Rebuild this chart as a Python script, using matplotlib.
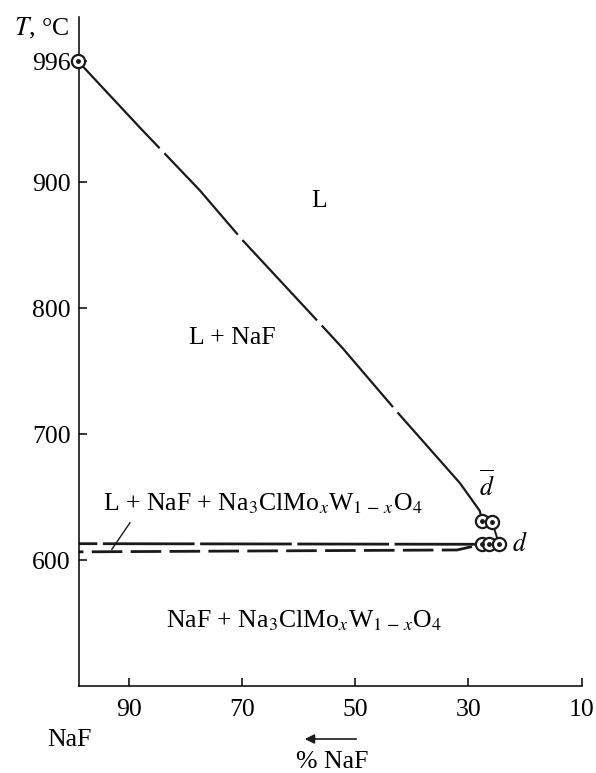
import matplotlib
matplotlib.use("Agg")
import matplotlib.pyplot as plt

plt.rcParams['font.family'] = ['Liberation Serif', 'DejaVu Serif']
plt.rcParams['mathtext.fontset'] = 'stix'
plt.rcParams['lines.scale_dashes'] = False

# ---- data ----
liq_x = [99.0, 88.0, 77.5, 69.9, 56.3, 52.2, 42.5, 31.5, 28.0, 27.6]
liq_T = [996, 943, 893.6, 853.8, 788, 768, 717, 661, 639, 631]

upper_x = [99.0, 27.6]
upper_T = [613.0, 612.5]

lower_x = [99.0, 32.0, 27.6]
lower_T = [606.5, 608.0, 612.5]

link_x = [25.8, 24.6]
link_T = [630.0, 612.5]

pts_x = [99.0, 27.6, 25.8, 27.6, 26.4, 24.6]
pts_T = [996, 631, 630, 612.5, 612.5, 612.5]

xticks = [90, 70, 50, 30, 10]
yticks = [600, 700, 800, 900, 996]

fs = 18.5
fig = plt.figure(figsize=(5.96, 7.73), dpi=100)
ax = fig.add_axes([0.1326, 0.1125, 0.976 - 0.1326, 0.978 - 0.1125])
ax.set_xlim(98.8, 10)
ax.set_ylim(500, 1031)
for s in ['top', 'right']:
    ax.spines[s].set_visible(False)
for s in ['left', 'bottom']:
    ax.spines[s].set_linewidth(1.1)

ax.set_xticks(xticks)
ax.set_yticks(yticks)
ax.tick_params(direction='in', length=6, width=1.1, labelsize=fs, pad=6)
ax.tick_params(axis='x', pad=9)

col = '#1a1a1a'
l1, = ax.plot(liq_x, liq_T, color=col, lw=1.6, clip_on=False)
l1.set_dashes((86, 5, 79, 5, 79, 5, 78, 5, 400, 5))
l2, = ax.plot(upper_x, upper_T, color=col, lw=2.0)
l2.set_linestyle((52, (66, 4)))
l3, = ax.plot(lower_x, lower_T, color=col, lw=2.0)
l3.set_linestyle((18, (22, 6)))
ax.plot(link_x, link_T, color=col, lw=1.4)

ax.plot(pts_x, pts_T, 'o', ms=9.5, mfc='white', mec=col, mew=1.6,
        clip_on=False, zorder=5)
ax.plot(pts_x, pts_T, 'o', ms=2.5, mfc=col, mec=col, clip_on=False, zorder=6)

# leader line for upper label
ax.plot([89.8, 93.0], [629.6, 608.5], color=col, lw=1.0)

ax.text(56.4, 885, 'L', fontsize=fs, ha='center', va='center')
ax.text(71.8, 776, 'L + NaF', fontsize=fs, ha='center', va='center')
ax.text(94.6, 644.5, r'L + NaF + Na$_3$ClMo$_x$W$_{1\,-\,x}$O$_4$',
        fontsize=fs, ha='left', va='center')
ax.text(83.5, 552, r'NaF + Na$_3$ClMo$_x$W$_{1\,-\,x}$O$_4$',
        fontsize=fs, ha='left', va='center')
ax.text(26.7, 659, r'$\overline{d}$', fontsize=fs, ha='center', va='center')
ax.text(20.9, 613, r'$d$', fontsize=fs, ha='center', va='center')

fig.text(42 / 596, 1 - 28 / 773, r'$T$, °C', fontsize=fs, ha='center', va='center')
fig.text(69 / 596, 1 - 740 / 773, 'NaF', fontsize=fs, ha='center', va='center')
fig.text(332 / 596, 1 - 762 / 773, '% NaF', fontsize=fs, ha='center', va='center')
fig.add_artist(matplotlib.patches.FancyArrowPatch(
    (359 / 596, 1 - 739 / 773), (302 / 596, 1 - 739 / 773),
    transform=fig.transFigure, arrowstyle='-|>', mutation_scale=14,
    color=col, lw=1.2))

fig.savefig('out.png', dpi=100)
